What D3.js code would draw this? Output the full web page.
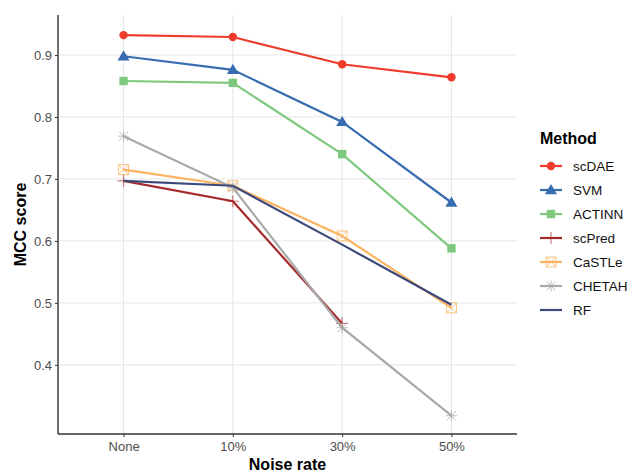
<!DOCTYPE html>
<html>
<head>
<meta charset="utf-8">
<script src="https://cdn.jsdelivr.net/npm/d3@7"></script>
<style>
  body { margin: 0; background: #fff; }
  text { font-family: "Liberation Sans", Arial, sans-serif; }
</style>
</head>
<body>
<div id="chart"></div>
<script>
var width = 631, height = 472;
var margin = {top: 15, right: 114, bottom: 38, left: 58};

// data
var noiseRates = ["None", "10%", "30%", "50%"];
var methods = ["scDAE", "SVM", "ACTINN", "scPred", "CaSTLe", "CHETAH", "RF"];
var scDAE  = [0.932, 0.929, 0.885, 0.864];
var SVM    = [0.898, 0.876, 0.792, 0.662];
var ACTINN = [0.858, 0.855, 0.740, 0.588];
var scPred = [0.697, 0.664, 0.467, null];
var CaSTLe = [0.715, 0.689, 0.608, 0.492];
var CHETAH = [0.769, 0.686, 0.460, 0.318];
var RF     = [0.697, 0.689, 0.594, 0.497];
var yTicks = [0.4, 0.5, 0.6, 0.7, 0.8, 0.9];

var seriesValues = {scDAE: scDAE, SVM: SVM, ACTINN: ACTINN, scPred: scPred, CaSTLe: CaSTLe, CHETAH: CHETAH, RF: RF};
var colors = {
  scDAE: "#EF3B2C", SVM: "#386CB0", ACTINN: "#7FC97F", scPred: "#A52A2A",
  CaSTLe: "#FDB462", CHETAH: "#A9A9A9", RF: "#3C4A7B"
};
var shapes = {scDAE: "circle", SVM: "triangle", ACTINN: "square", scPred: "plus", CaSTLe: "boxx", CHETAH: "star", RF: null};

var svg = d3.select("#chart").append("svg")
  .attr("width", width)
  .attr("height", height);

var xScale = d3.scalePoint()
  .domain(noiseRates)
  .range([margin.left, width - margin.right])
  .padding(0.6);

var yScale = d3.scaleLinear()
  .domain([0.2885, 0.9645])
  .range([height - margin.bottom, margin.top]);

// grid
svg.append("g").selectAll("line.hg")
  .data(yTicks).enter().append("line")
  .attr("x1", margin.left).attr("x2", width - margin.right)
  .attr("y1", d => yScale(d)).attr("y2", d => yScale(d))
  .style("stroke", "#e5e5e5").style("stroke-width", 1);

svg.append("g").selectAll("line.vg")
  .data(noiseRates).enter().append("line")
  .attr("x1", d => xScale(d)).attr("x2", d => xScale(d))
  .attr("y1", margin.top).attr("y2", height - margin.bottom)
  .style("stroke", "#e5e5e5").style("stroke-width", 1);

// axes
var yAxis = d3.axisLeft(yScale).tickValues(yTicks).tickSize(3).tickFormat(d3.format(".1f"));
var xAxis = d3.axisBottom(xScale).tickSize(3);

var gy = svg.append("g")
  .attr("transform", `translate(${margin.left},0)`)
  .call(yAxis);
gy.select(".domain").attr("d", `M0,${margin.top}V${height - margin.bottom}`);

var gx = svg.append("g")
  .attr("transform", `translate(0,${height - margin.bottom})`)
  .call(xAxis);
gx.select(".domain").attr("d", `M${margin.left},0H${width - margin.right}`);

[gx, gy].forEach(function(g) {
  g.selectAll(".domain").style("stroke", "#333").style("stroke-width", 1.4);
  g.selectAll(".tick line").style("stroke", "#333");
  g.selectAll(".tick text")
    .style("fill", "#4d4d4d")
    .style("font-size", "13px")
    .style("font-family", "Liberation Sans, Arial, sans-serif");
});
gy.selectAll(".tick text").attr("x", -6);
gx.selectAll(".tick text").attr("y", 8);

// axis titles
svg.append("text")
  .attr("transform", `translate(26,${(margin.top + height - margin.bottom) / 2}) rotate(-90)`)
  .style("text-anchor", "middle")
  .style("font-size", "16px")
  .style("font-weight", "bold")
  .text("MCC score");

svg.append("text")
  .attr("x", (margin.left + width - margin.right) / 2)
  .attr("y", 470)
  .style("text-anchor", "middle")
  .style("font-size", "16px")
  .style("font-weight", "bold")
  .text("Noise rate");

// shape drawing
function drawShape(g, shape, color, x, y) {
  if (shape === "circle") {
    g.append("circle").attr("cx", x).attr("cy", y).attr("r", 4.2).style("fill", color);
  } else if (shape === "triangle") {
    var s = 6;
    g.append("path")
      .attr("d", `M${x},${y - s}L${x + s},${y + s * 0.7}L${x - s},${y + s * 0.7}Z`)
      .style("fill", color);
  } else if (shape === "square") {
    g.append("rect").attr("x", x - 4.2).attr("y", y - 4.2).attr("width", 8.4).attr("height", 8.4).style("fill", color);
  } else if (shape === "plus") {
    g.append("path")
      .attr("d", `M${x - 6},${y}H${x + 6}M${x},${y - 6}V${y + 6}`)
      .style("stroke", color).style("stroke-width", 1.2).style("opacity", 0.6).style("fill", "none");
  } else if (shape === "boxx") {
    var b = 5;
    g.append("path")
      .attr("d", `M${x - b},${y - b}H${x + b}V${y + b}H${x - b}ZM${x - b},${y - b}L${x + b},${y + b}M${x + b},${y - b}L${x - b},${y + b}`)
      .style("stroke", color).style("stroke-width", 1).style("opacity", 0.8).style("fill", "none");
  } else if (shape === "star") {
    var r = 5.5, r2 = 4.4;
    g.append("path")
      .attr("d", `M${x - r},${y}H${x + r}M${x - r2},${y - r2}L${x + r2},${y + r2}M${x + r2},${y - r2}L${x - r2},${y + r2}M${x},${y - r}V${y + r}`)
      .style("stroke", color).style("stroke-width", 1).style("opacity", 0.8).style("fill", "none");
  }
}

// lines and points
var line = d3.line()
  .defined(d => d.v != null)
  .x(d => xScale(d.x))
  .y(d => yScale(d.v));

var linesG = svg.append("g").attr("class", "lines");
var drawOrder = ["scDAE", "SVM", "ACTINN", "scPred", "CaSTLe", "CHETAH", "RF"];
drawOrder.forEach(function(m) {
  var pts = noiseRates.map((x, i) => ({x: x, v: seriesValues[m][i]}));
  var g = linesG.append("g");
  g.append("path")
    .datum(pts)
    .attr("d", line)
    .style("fill", "none")
    .style("stroke", colors[m])
    .style("stroke-width", 2.2);
  pts.filter(d => d.v != null).forEach(function(d) {
    drawShape(g, shapes[m], colors[m], xScale(d.x), yScale(d.v));
  });
});

// legend
var legend = svg.append("g").attr("transform", "translate(538,0)");
legend.append("text")
  .attr("x", 2).attr("y", 144)
  .style("font-size", "16px")
  .style("font-weight", "bold")
  .text("Method");

methods.forEach(function(m, i) {
  var y = 166 + i * 24;
  var g = legend.append("g");
  g.append("line")
    .attr("x1", 2).attr("x2", 24).attr("y1", y).attr("y2", y)
    .style("stroke", colors[m]).style("stroke-width", 2.2);
  drawShape(g, shapes[m], colors[m], 13, y);
  g.append("text")
    .attr("x", 35).attr("y", y + 5)
    .style("font-size", "13.5px")
    .style("fill", "#111")
    .text(m);
});
</script>
</body>
</html>
